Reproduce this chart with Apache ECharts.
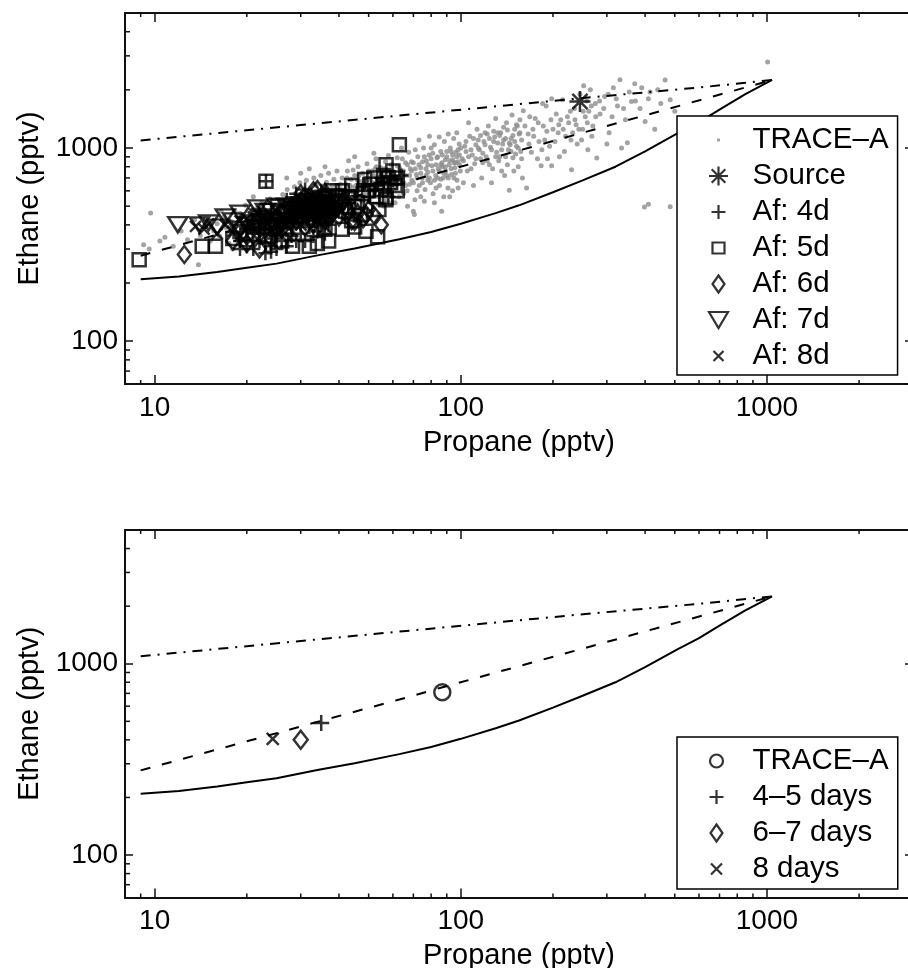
<!DOCTYPE html>
<html>
<head>
<meta charset="utf-8">
<script src="https://cdn.jsdelivr.net/npm/echarts@6/dist/echarts.min.js"></script>
<style>
html,body{margin:0;padding:0;background:#fff;}
#chart{width:908px;height:968px;}
</style>
</head>
<body>
<div id="chart"></div>
<script>
// ---- Axis ranges and tick values (log scales) ----
const propaneRange = [8, 3000];
const ethaneRange = [60, 5000];
const propaneMinorTicks = [9, 20, 30, 40, 50, 60, 70, 80, 90, 200, 300, 400, 500, 600, 700, 800, 900, 2000];
const ethaneMinorTicks = [70, 80, 90, 200, 300, 400, 500, 600, 700, 800, 900, 2000, 3000, 4000];

// ---- Model curves (propane pptv, ethane pptv) ----
const curveSolid = [[9, 209], [12, 216], [16, 228], [20, 240], [25, 252], [34, 278], [45, 302], [63, 337], [80, 367], [100, 405],
  [130, 460], [155, 505], [200, 590], [250, 680], [320, 800], [400, 960], [508, 1186], [600, 1360], [700, 1580], [850, 1900], [1040, 2250]];
const curveDashed = [[9, 277], [20, 393], [35, 503], [63, 650], [86, 749], [155, 971], [300, 1300], [562, 1714], [1040, 2250]];
const curveDashDot = [[9, 1094], [63, 1472], [155, 1687], [245, 1808], [606, 2060], [1040, 2250]];

// ---- TRACE-A observations ----
const traceA = [
  [9.2,316],[9.6,300],[9.7,461],[10.4,330],[10.8,345],[11.5,310],[12.2,372],[12.8,335],[13.5,425],[14.1,352],[14.6,398],[13.9,249],
  [15.2,330],[15.6,372],[16.0,405],[16.3,350],[16.8,440],[17.1,388],[17.5,320],[17.9,415],[18.3,470],[18.6,365],[19.0,430],[19.4,395],
  [19.8,505],[20.2,340],[20.5,455],[20.9,410],[21.3,375],[21.7,490],[22.0,440],[22.4,520],[22.8,400],[23.1,470],[23.5,355],[23.8,545],
  [24.2,430],[24.6,500],[24.9,385],[18.0,300],[21.0,560],[16.5,470],
  [25.3,460],[25.6,520],[25.9,410],[26.2,575],[26.5,480],[26.8,440],[27.1,610],[27.4,505],[27.7,390],[28.0,545],[28.3,470],[28.6,630],
  [28.9,430],[29.2,560],[29.5,500],[29.8,660],[30.1,455],[30.4,590],[30.7,520],[31.0,410],[31.3,680],[31.6,545],[31.9,480],[32.2,615],
  [32.5,440],[32.8,570],[33.1,700],[33.4,505],[33.7,640],[34.0,460],[34.3,590],[34.6,535],[34.9,720],[35.2,480],[35.5,610],[35.8,560],
  [36.1,420],[36.4,665],[36.7,515],[37.0,740],[37.3,580],[37.6,470],[37.9,640],[38.2,545],[38.5,690],[38.8,500],[39.1,605],[39.4,760],
  [39.7,555],[26.0,365],[28.5,360],[31.5,375],[33.0,395],[35.0,390],[27.0,700],[30.0,740],[32.0,780],[36.0,800],[38.0,420],[39.0,455],
  [40.2,520],[40.6,610],[41.0,700],[41.4,480],[41.8,565],[42.2,650],[42.6,760],[43.0,530],[43.4,600],[43.8,690],[44.2,455],[44.6,580],
  [45.0,720],[45.4,640],[45.8,510],[46.2,800],[46.6,560],[47.0,670],[47.4,610],[47.8,740],[48.2,490],[48.6,650],[49.0,580],[49.4,830],
  [49.8,700],[50.3,540],[50.8,620],[51.3,760],[51.8,660],[52.3,590],[52.8,880],[53.3,700],[53.8,510],[54.3,640],[54.8,790],[55.3,580],
  [55.8,730],[56.3,670],[56.8,850],[57.3,600],[57.8,760],[58.3,520],[58.8,690],[59.3,820],[59.8,630],[41.0,430],[43.0,860],[45.0,900],
  [47.0,450],[50.0,470],[52.0,940],[54.0,455],[56.0,500],[58.0,915],[42.0,545],[44.0,625],[46.0,680],[48.0,560],[50.0,760],[52.0,720],
  [54.0,560],[56.0,610],[58.0,700],[49.0,640],[51.0,600],[53.0,800],[55.0,680],[57.0,540],[59.0,740],[44.5,770],
  [60.5,700],[61.2,620],[62.0,810],[62.8,560],[63.6,750],[64.4,880],[65.2,660],[66.0,720],[66.8,600],[67.6,950],[68.4,780],[69.2,680],
  [70.0,840],[70.8,540],[71.6,730],[72.4,900],[73.2,640],[74.0,790],[74.8,700],[75.6,1000],[76.4,610],[77.2,860],[78.0,750],[78.8,920],
  [79.6,660],[80.4,810],[81.2,580],[82.0,1040],[82.8,720],[83.6,890],[84.4,780],[85.2,640],[86.0,960],[86.8,840],[87.6,700],[88.4,1080],
  [89.2,760],[90.0,900],[90.8,620],[91.6,820],[92.4,1000],[93.2,730],[94.0,870],[94.8,1120],[95.6,790],[96.4,950],[97.2,680],[98.0,850],
  [98.8,1050],[99.6,760],[61.0,520],[64.0,1000],[67.0,500],[70.0,470],[73.0,1100],[76.0,530],[79.0,1150],[82.0,520],[85.0,1140],[88.0,560],
  [91.0,1180],[94.0,600],[97.0,1200],[63.0,660],[66.0,840],[69.0,760],[72.0,600],[75.0,850],[78.0,680],[81.0,940],[84.0,700],[87.0,800],
  [90.0,720],[93.0,960],[96.0,840],[99.0,920],[62.0,890],[65.0,580],[68.0,650],[71.0,980],[74.0,560],[77.0,720],[80.0,1000],[83.0,620],
  [86.0,690],[89.0,870],[92.0,560],[95.0,700],[98.0,620],[70.5,452],[86.6,470],
  [101,880],[103,1020],[105,760],[107,1150],[109,920],[111,830],[113,1250],[115,980],[117,700],[119,1080],[121,900],[123,1300],
  [125,1010],[127,780],[129,1140],[131,950],[133,860],[135,1200],[137,1050],[139,720],[141,1350],[143,980],[144,604],[146,1120],
  [148,890],[150,1250],[152,1020],[154,800],[156,1400],[158,1100],[102,660],[106,1350],[110,640],[114,1100],[118,840],[122,1180],
  [126,660],[130,1420],[134,900],[138,1280],[142,820],[147,1480],[151,930],[155,1180],[159,700],[104,960],[108,780],[112,1040],
  [116,880],[120,1200],[124,820],[128,1080],[132,1200],[136,760],[140,1120],[145,1040],[149,760],[153,1300],[157,960],[160,1560],
  [164,621],[166,1180],[170,950],[175,1420],[180,1080],[183,810],[186,1300],[190,1650],[195,1020],[198,810],[200,1250],[205,1500],
  [210,900],[215,1780],[220,1150],[225,1350],[230,772],[235,1600],[240,1050],[245,1900],[250,1250],[255,1450],[260,980],[265,2000],
  [270,1300],[275,1700],[278,888],[168,1450],[178,880],[188,1100],[198,1800],[208,1200],[218,960],[228,1550],[238,1320],[248,1100],
  [258,1750],[268,1150],[172,1250],[192,880],[212,1400],[232,1200],[252,2100],[262,1550],[185,1700],
  [285,1500],[295,1850],[305,1200],[315,2050],[325,1650],[331,2255],[335,1000],[345,1400],[350,1065],[361,1741],[370,2150],[385,1600],
  [400,1373],[415,1950],[430,1250],[450,1700],[465,2250],[483,1780],[500,1550],[300,1050],
  [398,495],[410,512],[483,497],[1005,2790],
  [40.5,650],[41.5,590],[42.5,700],[43.5,640],[44.5,540],[45.5,610],[46.5,720],[47.5,530],[48.5,700],[49.5,610],[50.5,680],[51.5,560],
  [52.5,780],[53.5,620],[54.5,710],[55.5,640],[56.5,780],[57.5,690],[58.5,600],[59.5,720],
  [60,760],[61,700],[62,650],[63,790],[64,700],[65,760],[66,640],[67,820],[68,720],[69,850],[70,660],[71,780],[72,700],[73,820],[74,740],
  [75,660],[76,900],[77,780],[78,820],[79,700],[80,880],[81,760],[82,680],[83,820],[84,900],[85,760],[86,820],[87,920],[88,740],[89,800],
  [90,960],[91,700],[92,860],[93,780],[94,920],[95,840],[96,740],[97,900],[98,980],[99,820],
  [100,1000],[102,860],[104,1080],[106,900],[108,980],[110,1120],[112,880],[114,1000],[116,1160],[118,940],[120,1040],[122,860],
  [124,1120],[126,980],[128,1220],[130,900],[132,1060],[134,1160],[136,980],[138,1100],[140,900],[142,1240],[144,1060],[146,960],
  [148,1160],[150,1080],[152,1320],[154,1000],[156,1200],[158,880],
  [162,1300],[167,1050],[173,1150],[179,1350],[184,980],[191,1220],[197,1400],[203,1080],[209,1320],[216,1250],[223,1450],[229,1100],
  [236,1400],[243,1250],[251,1550],[259,1350],[267,1650],[276,1450],[284,1750],[293,1600],[303,1900],[312,1450],[322,1800],[340,1600],
  [355,1950],[372,1750],[390,2050],[410,1800],[440,2000],
  [25,430],[26,500],[27,455],[28,510],[29,470],[30,540],[31,490],[32,530],[33,470],[34,555],[35,510],[36,580],[37,530],[38,600],
  [39,560],[40,580],[22,410],[23,445],[24,460],[20,420],[19,460],[21,480]
];

// ---- Source and aged African plumes ----
const source = [[245, 1740]];
const af4d = [[19,330],[21,300],[22,360],[23,320],[24,290],[24.5,340],[25,300],[26,380],[27,420],[28,350],[29,460],[30,400],[31,330],
  [32,480],[33,420],[34,370],[35,520],[36,450],[37,400],[38,560],[40,500],[42,600],[45,540],[48,650],[52,610],[55,700],[58,560],
  [20,380],[25,450],[30,520],[64,720],[23,285],[23.1,672],
  [21,420],[22,470],[23,410],[24,380],[25,350],[26,330],[27,310],[28,390],[29,330],[30,360],[31,440],[32,390],[33,350],[34,450],
  [35,410],[36,360],[37,470],[38,440],[39,500],[41,460],[43,520],[46,600],[50,560],[53,640],[56,660],[60,680],[27,540],[29,580],
  [31,610],[33,560],[35,600],[19,300],[20,310],[22,330],[24,310]];
const af5d = [[8.9,264],[14.3,310],[15.8,310],[23.1,672],[25.2,499],[28.2,310],[32,310],[49,371],[53.5,347],[56.9,540],[57,820],
  [48.5,686],[63,1040],[20,360],[22,420],[26,330],[30,470],[34,520],[36,380],[38,600],[40,560],[42,470],[44,640],[46,520],[50,600],
  [52,700],[54,480],[58,700],[60,760],[61,640],[18,340],[24,390],[44,420],[47,450],[55,610],[62,600],[57,553],
  [19,370],[21,390],[23,350],[25,420],[27,390],[29,440],[31,500],[33,460],[35,430],[37,560],[39,520],[41,600],[43,560],[45,500],
  [48,580],[51,650],[53,560],[56,720],[59,660],[62,700],[34,320],[37,330],[41,380],[45,390]];
const af6d = [[12.5,281],[20,320],[21,350],[22,300],[23,380],[24,340],[26,410],[28,450],[29,520],[30,480],[31,560],[32,430],[33,500],
  [34,540],[35,470],[36,420],[37,510],[38,470],[40,440],[42,500],[44,420],[46,460],[48,430],[50,480],[52,450],[55,400],[27,360],
  [31,390],[33,600],[29,420],[43,470],[45,417],[49,452],
  [25,430],[27,470],[28,500],[30,530],[32,510],[33,460],[34,480],[35,510],[36,560],[37,450],[38,500],[39,480],[41,520],[31,460],
  [29,450],[26,380],[24,400],[22,360],[20,350],[18,330],[30,580],[34,610],[36,590],[32,540]];
const af7d = [[11.9,401],[21.7,490],[18,420],[19,460],[20,400],[22,440],[23,470],[24,420],[25,380],[26,460],[27,500],[28,420],[29,480],
  [30,440],[31,520],[32,460],[33,400],[34,500],[35,540],[36,480],[37,430],[38,520],[16,390],[17,440],[39,560],
  [19,380],[21,410],[23,430],[24,470],[26,420],[27,450],[28,480],[29,510],[30,490],[31,460],[32,500],[33,530],[34,460],[35,490],
  [36,520],[37,480],[38,450],[40,530],[22,390],[25,500],[14,400],[15,410]];
const af8d = [[13.6,393],[14.5,380],[15,405],[16,360],[17,400],[18,370],[19,420],[20,390],[21,440],[22,400],[23,370],[24,450],[25,410],
  [26,380],[28,440],[30,400],[32,450],[34,420],[36,390],[38,470],
  [19,350],[20,430],[22,430],[23,420],[24,380],[26,440],[27,400],[29,430],[31,420],[33,440],[35,430],[37,440],[30,480],[28,460]];

// ---- Lower panel: campaign mean and plume age classes ----
const traceAMean = [[87, 710]];
const age45 = [[35, 490]];
const age67 = [[30, 400]];
const age8 = [[24.3, 405]];

// ---- Marker outlines ----
const FONT = 'Liberation Sans, Arial, Helvetica, sans-serif';
function shape(kind, cx, cy, w, h) {
  const l = cx - w / 2, r = cx + w / 2, t = cy - h / 2, b = cy + h / 2;
  switch (kind) {
    case 'plus': return `M${l},${cy}L${r},${cy}M${cx},${t}L${cx},${b}`;
    case 'cross': return `M${l},${t}L${r},${b}M${l},${b}L${r},${t}`;
    case 'star': {
      const dx = w * 0.36, dy = h * 0.36;
      return `M${l},${cy}L${r},${cy}M${cx},${t}L${cx},${b}M${cx - dx},${cy - dy}L${cx + dx},${cy + dy}M${cx - dx},${cy + dy}L${cx + dx},${cy - dy}`;
    }
    case 'square': return `M${l},${t}L${r},${t}L${r},${b}L${l},${b}Z`;
    case 'diamond': return `M${cx},${t}L${r},${cy}L${cx},${b}L${l},${cy}Z`;
    case 'tri': return `M${l},${t}L${r},${t}L${cx},${b}Z`;
    case 'circle': return `M${l},${cy}A${w / 2},${h / 2},0,1,1,${r},${cy}A${w / 2},${h / 2},0,1,1,${l},${cy}Z`;
    case 'dot': return `M${cx - 1.5},${cy - 1.5}L${cx + 1.5},${cy - 1.5}L${cx + 1.5},${cy + 1.5}L${cx - 1.5},${cy + 1.5}Z`;
  }
}
const sym = kind => 'path://' + shape(kind, 5, 5, 10, 10);
// legend icons live in a 24x24 frame so each keeps its own drawn size
const legendIcon = (kind, w, h) => 'path://M0,0M24,24' + shape(kind, 12, 12, w, h);

const GRAY = '#8c8c8c';
const STROKE = 2.5;

function scatter(name, data, kind, size, xi, yi) {
  return {
    type: 'scatter', name, data, xAxisIndex: xi, yAxisIndex: yi,
    symbol: sym(kind), symbolSize: size, symbolKeepAspect: false,
    itemStyle: { color: 'none', borderColor: '#000', borderWidth: STROKE }, z: 4, silent: true
  };
}
function curve(data, dash, xi, yi) {
  return {
    type: 'line', data, xAxisIndex: xi, yAxisIndex: yi, symbol: 'none',
    lineStyle: { color: '#000', width: 2, type: dash }, z: 3, silent: true
  };
}
function minorTicks(xi, yi) {
  const line = (x1, y1, x2, y2) => ({ type: 'line', shape: { x1, y1, x2, y2 }, style: { stroke: '#111', lineWidth: 1.5 } });
  return [{
    type: 'custom', xAxisIndex: xi, yAxisIndex: yi, z: 6, silent: true,
    data: propaneMinorTicks.map(v => [v, ethaneRange[0]]),
    renderItem(params, api) {
      const v = api.value(0);
      const b = api.coord([v, ethaneRange[0]]), t = api.coord([v, ethaneRange[1]]);
      return { type: 'group', children: [line(b[0], b[1], b[0], b[1] - 4), line(t[0], t[1], t[0], t[1] + 4)] };
    }
  }, {
    type: 'custom', xAxisIndex: xi, yAxisIndex: yi, z: 6, silent: true,
    data: ethaneMinorTicks.map(v => [propaneRange[0], v]),
    renderItem(params, api) {
      const v = api.value(1);
      const l = api.coord([propaneRange[0], v]), r = api.coord([propaneRange[1], v]);
      return { type: 'group', children: [line(l[0], l[1], l[0] + 5, l[1]), line(r[0], r[1], r[0] - 5, r[1])] };
    }
  }];
}

const plainNumber = v => String(Math.round(v));
const axisLineStyle = { lineStyle: { color: '#111', width: 2 } };
function xAxes(grid) {
  const base = { type: 'log', logBase: 10, gridIndex: grid, min: propaneRange[0], max: propaneRange[1],
    axisLine: axisLineStyle, axisTick: { inside: true, length: 9, lineStyle: { color: '#111', width: 1.5 } },
    splitLine: { show: false } };
  return [
    Object.assign({}, base, { position: 'bottom',
      axisLabel: { fontSize: 28, color: '#000', fontFamily: FONT, margin: 10, showMinLabel: false, showMaxLabel: false, formatter: plainNumber },
      name: 'Propane (pptv)', nameLocation: 'middle', nameGap: 44,
      nameTextStyle: { fontSize: 29, color: '#000', fontFamily: FONT } }),
    Object.assign({}, base, { position: 'top', axisLabel: { show: false } })
  ];
}
function yAxes(grid) {
  const base = { type: 'log', logBase: 10, gridIndex: grid, min: ethaneRange[0], max: ethaneRange[1],
    axisLine: axisLineStyle, axisTick: { inside: true, length: 8, lineStyle: { color: '#111', width: 1.5 } },
    splitLine: { show: false } };
  return [
    Object.assign({}, base, { position: 'left',
      axisLabel: { fontSize: 28, color: '#000', fontFamily: FONT, margin: 7, showMinLabel: false, showMaxLabel: false, formatter: plainNumber },
      name: 'Ethane (pptv)', nameLocation: 'middle', nameGap: 72, nameRotate: 90,
      nameTextStyle: { fontSize: 29, color: '#000', fontFamily: FONT } }),
    // right-hand frame edge lies just past the page edge; only its inward ticks show
    Object.assign({}, base, { position: 'right', axisLabel: { show: false }, axisLine: { show: false } })
  ];
}

const legendBase = {
  orient: 'vertical', itemWidth: 58, itemHeight: 24, itemGap: 6, selectedMode: false, z: 10,
  borderColor: '#000', borderWidth: 1.5, backgroundColor: '#fff', borderRadius: 0,
  textStyle: { fontSize: 29.5, lineHeight: 30, color: '#000', fontFamily: FONT }
};
const blackIcon = { color: 'none', borderColor: '#000', borderWidth: 2.2 };

const option = {
  animation: false,
  backgroundColor: '#fff',
  grid: [
    { left: 125, top: 13, width: 788, height: 371, outerBoundsMode: 'none' },
    { left: 125, top: 530, width: 788, height: 367.5, outerBoundsMode: 'none' }
  ],
  xAxis: [...xAxes(0), ...xAxes(1)],
  yAxis: [...yAxes(0), ...yAxes(1)],
  legend: [
    Object.assign({}, legendBase, {
      left: 677, top: 116, padding: [9, 9, 4, 27],
      data: [
        { name: 'TRACE–A', icon: legendIcon('dot', 3, 3), itemStyle: { color: GRAY, borderWidth: 0 } },
        { name: 'Source', icon: legendIcon('star', 19, 19), itemStyle: blackIcon },
        { name: 'Af: 4d', icon: legendIcon('plus', 14, 14), itemStyle: blackIcon },
        { name: 'Af: 5d', icon: legendIcon('square', 12, 11), itemStyle: blackIcon },
        { name: 'Af: 6d', icon: legendIcon('diamond', 12, 17), itemStyle: blackIcon },
        { name: 'Af: 7d', icon: legendIcon('tri', 19, 16), itemStyle: blackIcon },
        { name: 'Af: 8d', icon: legendIcon('cross', 10, 10), itemStyle: blackIcon }
      ]
    }),
    Object.assign({}, legendBase, {
      left: 677, top: 737, padding: [9, 1, 5, 25], itemWidth: 62,
      data: [
        { name: 'TRACE–A ', icon: legendIcon('circle', 13, 13), itemStyle: blackIcon },
        { name: '4–5 days', icon: legendIcon('plus', 14, 14), itemStyle: blackIcon },
        { name: '6–7 days', icon: legendIcon('diamond', 12, 17), itemStyle: blackIcon },
        { name: '8 days', icon: legendIcon('cross', 11, 11), itemStyle: blackIcon }
      ]
    })
  ],
  series: [
    // upper panel
    { type: 'scatter', name: 'TRACE–A', data: traceA, xAxisIndex: 0, yAxisIndex: 0, symbol: 'circle', symbolSize: 5,
      itemStyle: { color: GRAY }, z: 2, silent: true },
    curve(curveSolid, 'solid', 0, 0),
    curve(curveDashed, [10, 12], 0, 0),
    curve(curveDashDot, [10, 7, 2, 7], 0, 0),
    scatter('Af: 5d', af5d, 'square', [13, 13], 0, 0),
    scatter('Af: 6d', af6d, 'diamond', [13, 17], 0, 0),
    scatter('Af: 7d', af7d, 'tri', [19, 15], 0, 0),
    scatter('Af: 8d', af8d, 'cross', [11, 11], 0, 0),
    scatter('Af: 4d', af4d, 'plus', [14, 14], 0, 0),
    scatter('Source', source, 'star', [21, 21], 0, 0),
    ...minorTicks(0, 0),
    // lower panel
    curve(curveSolid, 'solid', 2, 2),
    curve(curveDashed, [10, 12], 2, 2),
    curve(curveDashDot, [10, 7, 2, 7], 2, 2),
    scatter('TRACE–A ', traceAMean, 'circle', [16, 16], 2, 2),
    scatter('4–5 days', age45, 'plus', [16, 16], 2, 2),
    scatter('6–7 days', age67, 'diamond', [14, 18], 2, 2),
    scatter('8 days', age8, 'cross', [12, 12], 2, 2),
    ...minorTicks(2, 2)
  ]
};

const chart = echarts.init(document.getElementById('chart'), null, { renderer: 'canvas' });
chart.setOption(option);
</script>
</body>
</html>
